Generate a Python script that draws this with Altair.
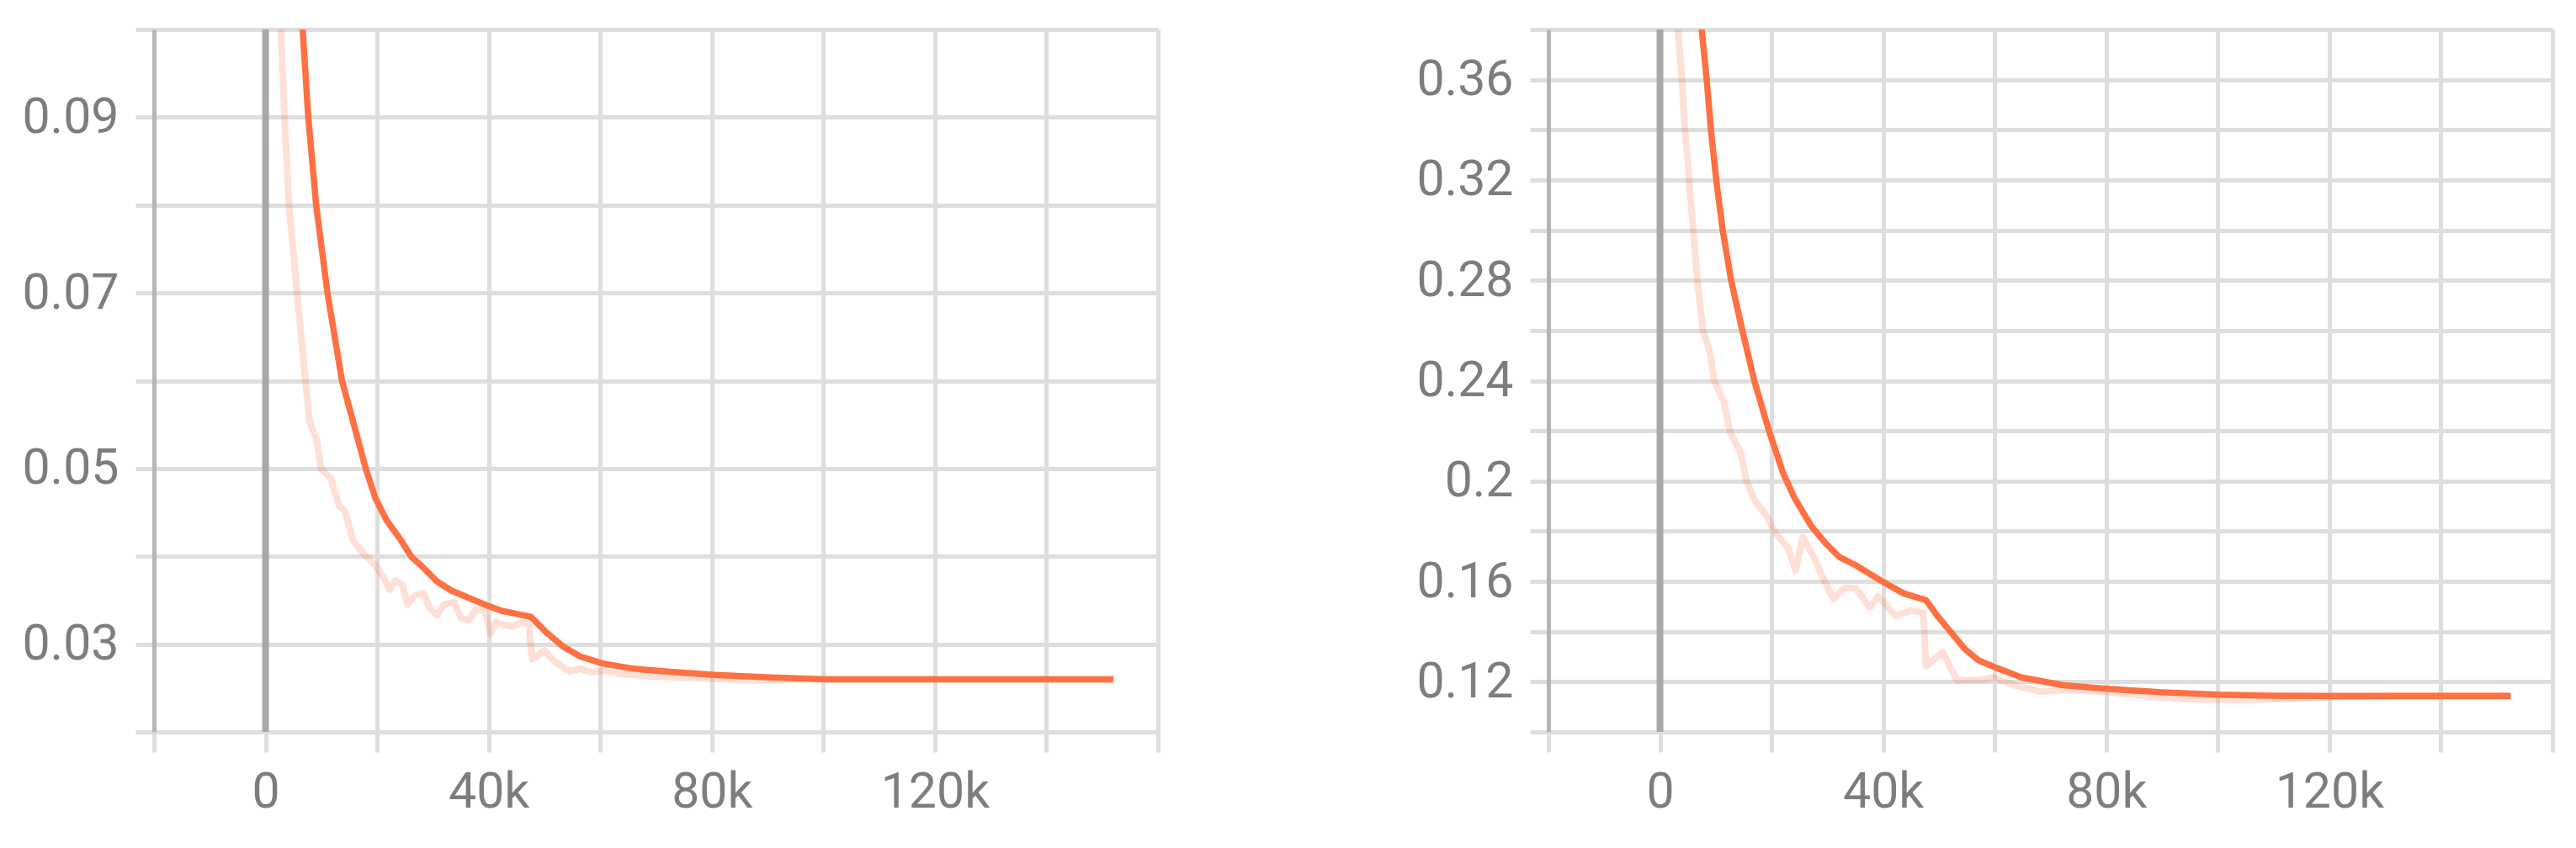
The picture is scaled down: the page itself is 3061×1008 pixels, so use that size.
import altair as alt
import pandas as pd

# ---------------- data ----------------
# left panel: raw (faint) series
left_raw_steps = [0, 1000, 2000, 2740, 3400, 4200, 5150, 5650, 6400, 7160, 7900, 9200, 9900,
                  11700, 13200, 14200, 15700, 17700, 19700, 21200, 22200, 23200, 24500, 25500,
                  26700, 28300, 29500, 30800, 32000, 33800, 35000, 36500, 37800, 39300, 40300,
                  41300, 42800, 44300, 45800, 47200, 47800, 49000, 50000, 51500, 53000, 54500,
                  56500, 58500, 61000, 63500, 66000, 69000, 73500, 78000, 85000, 90000, 95000,
                  100000, 110000, 120000, 130000, 140000, 152000]
left_raw_vals = [0.30, 0.16, 0.112, 0.100, 0.090, 0.080, 0.0735, 0.070, 0.065, 0.060, 0.0553, 0.0533, 0.0500,
                 0.0489, 0.0457, 0.0452, 0.0418, 0.0402, 0.0390, 0.0375, 0.0362, 0.0372, 0.0368, 0.0345,
                 0.0355, 0.0358, 0.0340, 0.0333, 0.0345, 0.0348, 0.0330, 0.0327, 0.0340, 0.0338, 0.0312,
                 0.0325, 0.0322, 0.0320, 0.0325, 0.0322, 0.0283, 0.0288, 0.0293, 0.0282, 0.0275, 0.0269,
                 0.0272, 0.0268, 0.0270, 0.0266, 0.0265, 0.0263, 0.0262, 0.0261, 0.0259, 0.0259, 0.0260,
                 0.0260, 0.0260, 0.0260, 0.0260, 0.0260, 0.0260]

# left panel: smoothed series
left_smooth_steps = [0, 2000, 4000, 6000, 6650, 7660, 9070, 11100, 13700, 15700, 17960, 19700, 21700,
                     24200, 26200, 28300, 30800, 33300, 36300, 39300, 42300, 45300, 47600, 50400, 53400,
                     56400, 60400, 65900, 73500, 80500, 90500, 100000, 120000, 152000]
left_smooth_vals = [0.30, 0.20, 0.14, 0.107, 0.100, 0.090, 0.080, 0.070, 0.060, 0.0553, 0.050, 0.0466, 0.0441,
                    0.0419, 0.0399, 0.0387, 0.0371, 0.0361, 0.0353, 0.0345, 0.0338, 0.0334, 0.0331, 0.0313, 0.0297,
                    0.0286, 0.0278, 0.0272, 0.0268, 0.0265, 0.0262, 0.0260, 0.0260, 0.0260]

# right panel: raw (faint) series
right_raw_steps = [0, 1000, 2000, 3200, 3950, 4450, 4950, 5200, 5960, 6700, 7700, 8970, 9700, 11500,
                   12500, 14500, 15500, 17000, 19000, 20500, 23000, 24300, 25600, 27600, 29100, 31100,
                   33100, 35100, 37600, 39100, 42200, 45200, 47200, 47700, 50700, 53200, 57200, 59800,
                   63800, 68300, 72300, 80000, 88000, 95000, 105000, 112000, 120000, 130000, 152500]
right_raw_vals = [0.80, 0.60, 0.46, 0.380, 0.360, 0.340, 0.3285, 0.320, 0.300, 0.280, 0.260, 0.2514, 0.240, 0.2312,
                  0.220, 0.2111, 0.200, 0.1921, 0.1865, 0.180, 0.1732, 0.1642, 0.1776, 0.1697, 0.1620, 0.1530,
                  0.1575, 0.1573, 0.1496, 0.1541, 0.1463, 0.1485, 0.1474, 0.1262, 0.1318, 0.1206, 0.1206, 0.1217,
                  0.1184, 0.1161, 0.1167, 0.1160, 0.1140, 0.1130, 0.1128, 0.1132, 0.1140, 0.1143, 0.1143]

# right panel: smoothed series
right_smooth_steps = [0, 2000, 4000, 6000, 7470, 8370, 9130, 10080, 11240, 12750, 14760, 16900, 19500,
                      22050, 24100, 27100, 29600, 32100, 35100, 39600, 43700, 47700, 49700, 52200, 54700,
                      57200, 60300, 64800, 72300, 80100, 90000, 100300, 110000, 120500, 152500]
right_smooth_vals = [1.0, 0.70, 0.52, 0.42, 0.380, 0.360, 0.340, 0.320, 0.300, 0.280, 0.260, 0.240, 0.2203,
                     0.2033, 0.1933, 0.1821, 0.1754, 0.1698, 0.1664, 0.1603, 0.1552, 0.1525, 0.1463, 0.1396, 0.1329,
                     0.1284, 0.1256, 0.1217, 0.1186, 0.1172, 0.1158, 0.1148, 0.1144, 0.1143, 0.1143]

# axes: grid positions and labelled ticks
x_domain = [-20000, 160000]
x_grid = [-20000, 0, 20000, 40000, 60000, 80000, 100000, 120000, 140000, 160000]
x_labelled = [0, 40000, 80000, 120000]

left_y_domain = [0.02, 0.1]
left_y_grid = [0.02, 0.03, 0.04, 0.05, 0.06, 0.07, 0.08, 0.09, 0.1]
left_y_labelled = [0.03, 0.05, 0.07, 0.09]

right_y_domain = [0.10, 0.38]
right_y_grid = [0.1, 0.12, 0.14, 0.16, 0.18, 0.2, 0.22, 0.24, 0.26, 0.28, 0.3, 0.32, 0.34, 0.36, 0.38]
right_y_labelled = [0.12, 0.16, 0.2, 0.24, 0.28, 0.32, 0.36]

zero_step = [0]

# ---------------- style ----------------
LINE = "#ff7043"
GRID = "#dedede"
LABEL = "#7d7d7d"
FONT = "Roboto"
FS = 59


def is_in(values):
    return "(" + " || ".join("abs(datum.value - %r) < 1e-9" % v for v in values) + ")"


def panel(raw_s, raw_v, sm_s, sm_v, ydom, ygrid, ylab):
    raw_df = pd.DataFrame({"step": raw_s, "value": raw_v})
    sm_df = pd.DataFrame({"step": sm_s, "value": sm_v})
    zero_df = pd.DataFrame({"step": zero_step})

    x_lab_expr = "%s ? (datum.value == 0 ? '0' : (datum.value / 1000) + 'k') : ''" % is_in(x_labelled)
    y_lab_expr = "%s ? ('' + datum.value) : ''" % is_in(ylab)

    x = alt.X("step:Q", title=None,
              scale=alt.Scale(domain=x_domain, nice=False, zero=False),
              axis=alt.Axis(values=x_grid, labelExpr=x_lab_expr, grid=True, gridColor=GRID, gridWidth=5,
                            ticks=True, tickColor=GRID, tickWidth=5, tickSize=24, domain=False,
                            labelFont=FONT,
                            labelFontSize={"condition": {"test": is_in(x_labelled), "value": FS}, "value": 0},
                            labelColor=LABEL, labelPadding=18,
                            labelOverlap=False, labelFlush=False))
    y = alt.Y("value:Q", title=None,
              scale=alt.Scale(domain=ydom, nice=False, zero=False),
              axis=alt.Axis(values=ygrid, labelExpr=y_lab_expr, grid=True, gridColor=GRID, gridWidth=5,
                            ticks=True, tickColor=GRID, tickWidth=5, tickSize=22,
                            domain=True, domainColor="#b5b5b5", domainWidth=5,
                            labelFont=FONT,
                            labelFontSize={"condition": {"test": is_in(ylab), "value": FS}, "value": 0},
                            labelColor=LABEL, labelPadding=20,
                            labelOverlap=False, labelFlush=False))

    raw = alt.Chart(raw_df).mark_line(color=LINE, opacity=0.22, strokeWidth=8, clip=True,
                                      strokeJoin="round").encode(x=x, y=y)
    zero = alt.Chart(zero_df).mark_rule(color="#a8a8a8", strokeWidth=8).encode(x=alt.X("step:Q"))
    sm = alt.Chart(sm_df).mark_line(color=LINE, strokeWidth=7.5, clip=True,
                                    strokeJoin="round").encode(x=x, y=y)
    return alt.layer(raw, zero, sm).properties(width=1193, height=835)


left = panel(left_raw_steps, left_raw_vals, left_smooth_steps, left_smooth_vals,
             left_y_domain, left_y_grid, left_y_labelled)
right = panel(right_raw_steps, right_raw_vals, right_smooth_steps, right_smooth_vals,
              right_y_domain, right_y_grid, right_y_labelled)

chart = alt.hconcat(left, right, spacing=303).resolve_scale(y="independent").properties(
    padding={"left": 17, "top": 22, "right": 5, "bottom": 5}
).configure_view(stroke=None).configure(background="white")

chart.save("out.html", embed_options={"renderer": "svg", "actions": False})
